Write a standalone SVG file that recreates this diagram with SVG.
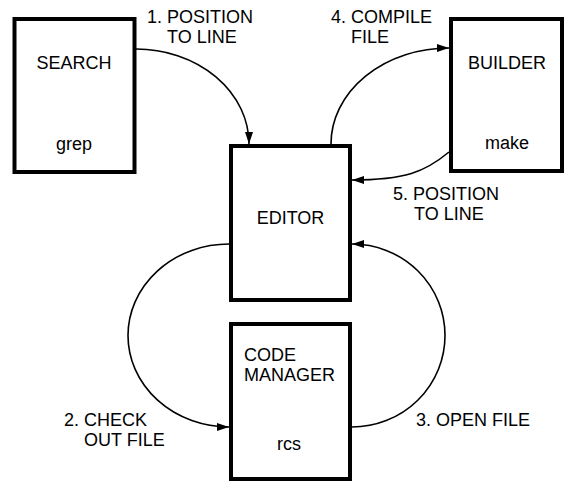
<svg xmlns="http://www.w3.org/2000/svg" width="564" height="481" viewBox="0 0 564 481">
<style>
.box{fill:#fff;stroke:#000;stroke-width:4}
.t{font-family:"Liberation Sans",Arial,sans-serif;font-size:18px;fill:#000}
.c{text-anchor:middle}
.edge{fill:none;stroke:#000;stroke-width:1.6}
</style>
<defs>
<marker id="ah" viewBox="0 0 12 8" refX="12" refY="4" markerWidth="12" markerHeight="8" markerUnits="userSpaceOnUse" orient="auto">
<path d="M0,0 L12,4 L0,8 z" fill="#000"/>
</marker>
</defs>
<rect width="564" height="481" fill="#fff"/>
<g id="search">
<rect class="box" x="14.5" y="19" width="120" height="153"/>
<text class="t c" x="74" y="69">SEARCH</text>
<text class="t c" x="74" y="150">grep</text>
</g>
<g id="builder">
<rect class="box" x="451" y="19" width="111" height="152"/>
<text class="t c" x="507" y="69">BUILDER</text>
<text class="t c" x="507" y="149">make</text>
</g>
<g id="editor">
<rect class="box" x="231" y="146" width="119" height="154"/>
<text class="t c" x="290.5" y="224">EDITOR</text>
</g>
<g id="codemanager">
<rect class="box" x="231" y="324" width="119" height="155"/>
<text class="t" x="244" y="360.5">CODE</text>
<text class="t" x="244" y="380.5">MANAGER</text>
<text class="t c" x="289" y="450">rcs</text>
</g>
<g id="connectors">
<path class="edge" marker-end="url(#ah)" d="M136,49 A113,95 0 0 1 249,144"/>
<path class="edge" marker-end="url(#ah)" d="M331,144 A118,96 0 0 1 449,48"/>
<path class="edge" marker-end="url(#ah)" d="M449,152 C425,172 405,180 352,180"/>
<path class="edge" marker-end="url(#ah)" d="M229,244 A101,91.5 0 0 0 229,427"/>
<path class="edge" marker-end="url(#ah)" d="M352,427 A93,91.5 0 0 0 352,244"/>
</g>
<g id="labels">
<text class="t" x="147" y="23">1. POSITION<tspan x="167" y="43">TO LINE</tspan></text>
<text class="t" x="331" y="23">4. COMPILE<tspan x="351" y="43">FILE</tspan></text>
<text class="t" x="393" y="200">5. POSITION<tspan x="414" y="220">TO LINE</tspan></text>
<text class="t" x="64" y="426">2. CHECK<tspan x="84" y="446">OUT FILE</tspan></text>
<text class="t" x="416" y="426">3. OPEN FILE</text>
</g>
</svg>
